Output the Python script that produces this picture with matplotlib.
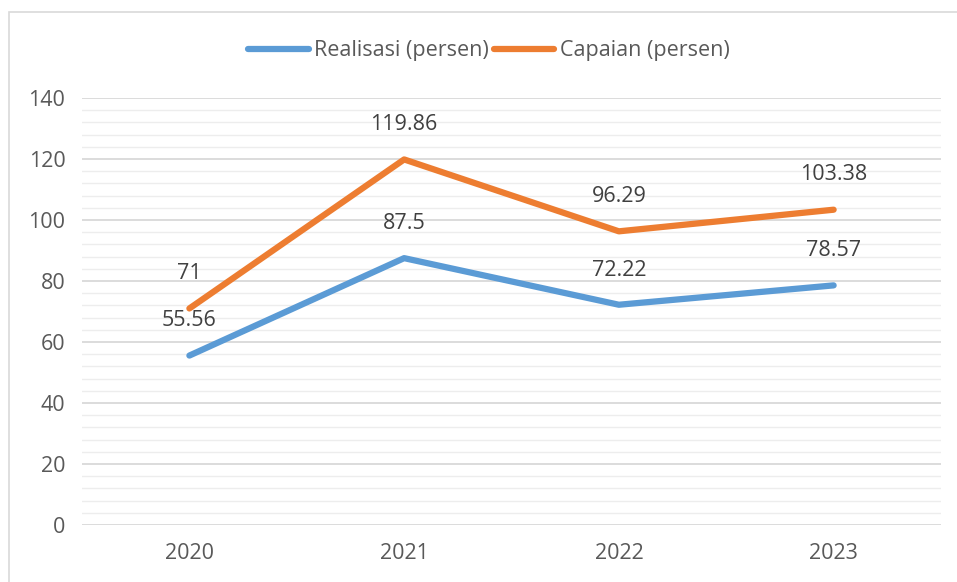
import numpy as np
import matplotlib.pyplot as plt
from matplotlib.patches import Rectangle
from matplotlib.ticker import MultipleLocator

plt.rcParams['font.family'] = ['Open Sans', 'DejaVu Sans']

years = ['2020', '2021', '2022', '2023']
realisasi = [55.56, 87.5, 72.22, 78.57]
capaian = [71, 119.86, 96.29, 103.38]
realisasi_labels = ['55.56', '87.5', '72.22', '78.57']
capaian_labels = ['71', '119.86', '96.29', '103.38']

blue = '#5B9BD5'
orange = '#ED7D31'
text_c = '#595959'
fs = 15.5

fig = plt.figure(figsize=(9.57, 5.82), dpi=100)
ax = fig.add_axes([0.0857, 0.0979, 0.8976, 0.7337])

x = np.arange(len(years))
ax.plot(x, realisasi, color=blue, lw=4.5, solid_capstyle='round', label='Realisasi (persen)', zorder=3)
ax.plot(x, capaian, color=orange, lw=4.5, solid_capstyle='round', label='Capaian (persen)', zorder=3)

for xi, v, s in zip(x, realisasi, realisasi_labels):
    ax.annotate(s, (xi, v), xytext=(0, 25), textcoords='offset points',
                ha='center', va='center', fontsize=fs, color='#404040')
for xi, v, s in zip(x, capaian, capaian_labels):
    ax.annotate(s, (xi, v), xytext=(0, 25), textcoords='offset points',
                ha='center', va='center', fontsize=fs, color='#404040')

ax.set_xlim(-0.5, 3.5)
ax.set_ylim(0, 140)
ax.set_xticks(x)
ax.set_xticklabels(years)
ax.yaxis.set_major_locator(MultipleLocator(20))
ax.yaxis.set_minor_locator(MultipleLocator(4))
ax.grid(axis='y', which='major', color='#D9D9D9', lw=1.3)
ax.grid(axis='y', which='minor', color='#EDEDED', lw=1.0)
ax.set_axisbelow(True)
for sp in ax.spines.values():
    sp.set_visible(False)
ax.tick_params(axis='both', which='both', length=0, labelsize=fs, labelcolor=text_c)
ax.tick_params(axis='y', pad=12)
ax.tick_params(axis='x', pad=13)

leg = fig.legend(loc='center', bbox_to_anchor=(0.511, 0.913), ncol=2, frameon=False,
                 fontsize=fs, handlelength=2.8, columnspacing=0.25, handletextpad=0.25)
for t in leg.get_texts():
    t.set_color(text_c)

fig.patches.append(Rectangle((9 / 957, -0.05), 1.2, 1 - 12 / 582 + 0.05,
                             transform=fig.transFigure, fill=False,
                             edgecolor='#D9D9D9', lw=1.2))

fig.savefig('out.png', dpi=100)
